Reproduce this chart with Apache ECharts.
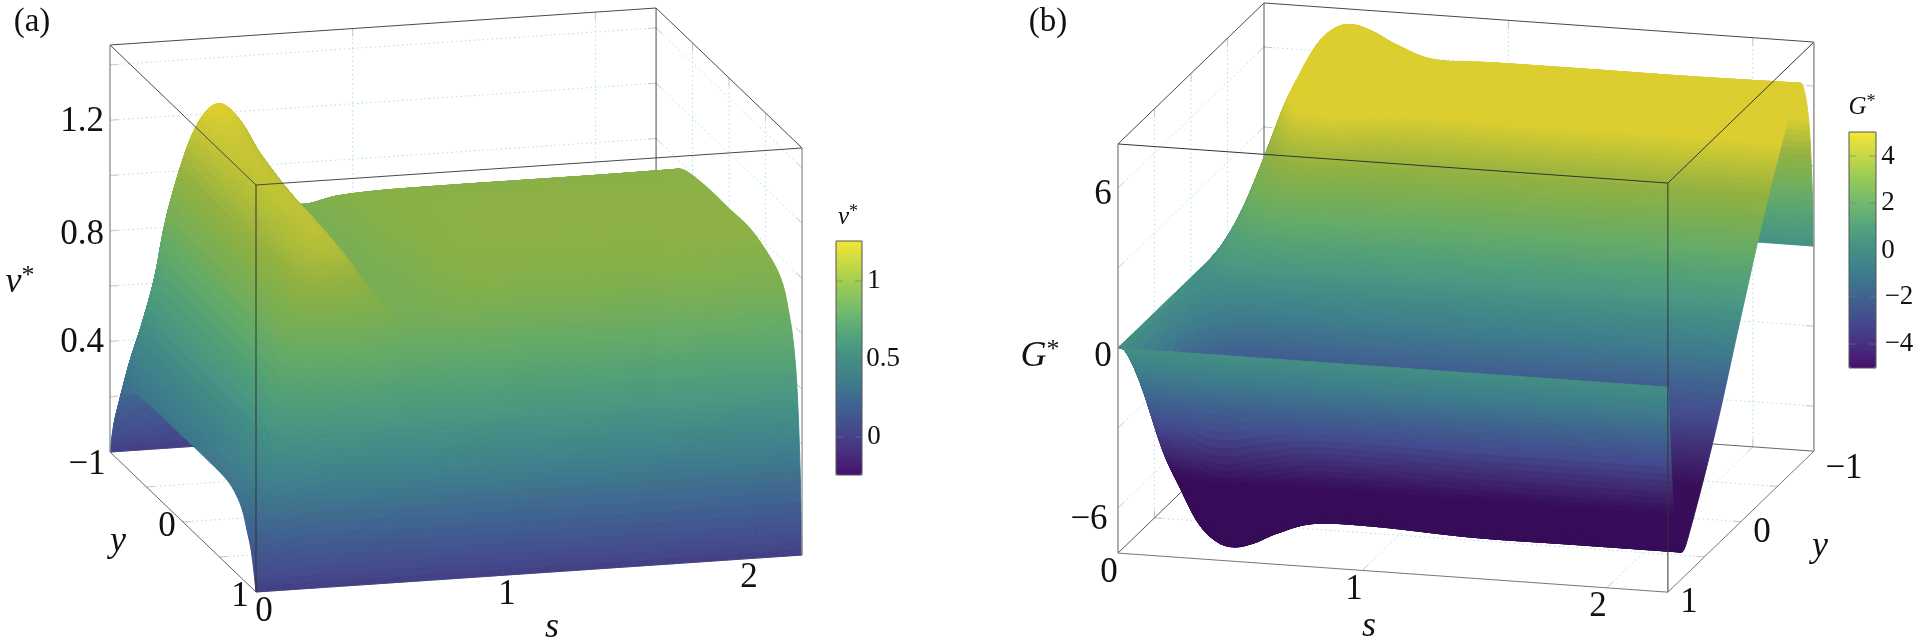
<!DOCTYPE html>
<html><head><meta charset="utf-8"><style>html,body{margin:0;padding:0;background:#fff}#c{width:1920px;height:639px}</style>
<script src="https://cdn.jsdelivr.net/npm/echarts@6/dist/echarts.min.js"></script></head>
<body><div id="c"></div><script>
// ---------- values ----------
const sA = [0,.05,.1,.15,.2,.3,.4,.5,.6,.7,.85,1,1.3,1.6,1.9,2.25];
const yA = [1,.97,.93,.88,.82,.74,.6,.3,0,-.3,-.6,-.74,-.82,-.88,-.93,-.97,-1];
const vStar = [
[0,.07,.14,.19,.245,.28,.305,.31,.31,.31,.305,.28,.25,.19,.14,.07,0],
[0,.2,.3,.36,.39,.41,.42,.42,.42,.42,.42,.41,.39,.36,.3,.15,0],
[0,.28,.42,.5,.54,.56,.57,.57,.57,.57,.57,.56,.54,.5,.42,.22,0],
[0,.31,.52,.64,.71,.73,.74,.74,.74,.74,.74,.73,.71,.66,.55,.3,0],
[0,.33,.58,.74,.85,.92,.93,.93,.93,.93,.93,.93,.92,.88,.72,.38,0],
[0,.34,.61,.78,.92,1.06,1.11,1.12,1.13,1.14,1.16,1.17,1.18,1.15,1,.5,0],
[0,.34,.61,.79,.93,1.08,1.15,1.17,1.18,1.19,1.21,1.24,1.26,1.26,1.13,.6,0],
[0,.335,.6,.77,.9,1.02,1.07,1.09,1.1,1.12,1.15,1.17,1.19,1.19,1.08,.58,0],
[0,.33,.58,.74,.84,.93,.94,.93,.93,.95,.98,1.01,1.02,1.01,.92,.48,0],
[0,.33,.57,.71,.8,.87,.89,.9,.9,.91,.92,.92,.9,.87,.77,.41,0],
[0,.33,.58,.72,.82,.9,.93,.94,.95,.96,.96,.94,.89,.83,.67,.36,0],
[0,.33,.59,.74,.84,.92,.97,.99,.99,.99,.98,.945,.9,.82,.64,.33,0],
[0,.33,.59,.74,.84,.92,.97,1,1,1,.985,.945,.9,.81,.63,.33,0],
[0,.33,.59,.74,.84,.92,.97,1,1,1,.985,.945,.9,.81,.62,.33,0],
[0,.33,.59,.74,.84,.915,.965,1,1,1,.985,.945,.9,.8,.62,.33,0],
[0,.33,.59,.74,.83,.91,.96,1,1,1,.985,.95,.9,.8,.62,.33,0]];
const sB = [0,.07,.14,.21,.28,.35,.42,.5,.6,.75,1,1.4,1.8,2.25];
const yB = [1,.98,.94,.88,.8,.66,.34,0,-.34,-.66,-.8,-.88,-.94,-.98,-1];
const gStar = [
[0,0,0,0,0,0,0,0,0,0,0,0,0,0,0],
[0,-.4,-1.25,-1.9,-2.15,-1.9,-1.05,0,1,1.85,2.1,1.9,1.45,.65,0],
[0,-.85,-2.55,-3.85,-4.35,-3.85,-2.15,0,2.1,3.75,4.3,3.9,2.95,1.3,0],
[0,-1.1,-3.35,-5.05,-5.75,-5.05,-2.85,0,2.75,5,5.7,5.15,3.85,1.7,0],
[0,-1.35,-4.05,-6.15,-6.95,-6.15,-3.45,0,3.35,6.05,6.85,6.25,4.7,2.1,0],
[0,-1.45,-4.4,-6.65,-7.55,-6.65,-3.75,0,3.6,6.55,7.45,6.8,5.1,2.25,0],
[0,-1.5,-4.5,-6.8,-7.7,-6.8,-3.8,0,3.7,6.65,7.6,6.9,5.2,2.3,0],
[0,-1.45,-4.35,-6.6,-7.5,-6.6,-3.7,0,3.6,6.5,7.4,6.7,5.05,2.25,0],
[0,-1.35,-4.1,-6.2,-7.05,-6.2,-3.45,0,3.35,6.1,6.95,6.3,4.75,2.1,0],
[0,-1.3,-3.85,-5.85,-6.6,-5.85,-3.25,0,3.15,5.75,6.5,5.95,4.45,2,0],
[0,-1.3,-3.8,-5.8,-6.55,-5.8,-3.25,0,3.15,5.7,6.55,5.9,4.4,1.95,0],
[0,-1.3,-3.9,-5.9,-6.7,-5.9,-3.3,0,3.2,5.8,6.55,6,4.5,2,0],
[0,-1.3,-3.9,-5.9,-6.7,-5.9,-3.3,0,3.2,5.8,6.55,6,4.5,2,0],
[0,-1.3,-3.9,-5.9,-6.7,-5.9,-3.3,0,3.2,5.8,6.6,6,4.5,2,0]];
const palette = ['#45106e','#48307f','#444a8e','#3f6390','#3e7d8c','#438f85','#54a47c','#71ba6e','#96ca57','#c5d845','#f5e636'];
const zTicksA = [.2,.4,.6,.8,1,1.2,1.4], zTicksB = [-6,-3,0,3,6];
const sTicks = [1,2], yTicks = [-.5,0,.5];

// ---------- view of each 3D box (screen units of the hidden axes) ----------
const viewA = {ox:256,oy:592,sx:242.7,sy:-16.44,yx:-73,yy:-70,zx:0,zy:-276.5,z0:0,z1:1.472,s1:2.25};
const viewB = {ox:1118,oy:348,sx:244.4,sy:17.37,yx:73,yy:-70.5,zx:0,zy:-26.67,z0:-7.69,z1:7.65,s1:2.25};
function proj(v,s,y,z){const d=1-y;return [v.ox+v.sx*s+v.yx*d+v.zx*z, v.oy+v.sy*s+v.yy*d+v.zy*z];}

// smooth drawing of a table between its read values, like a line's smooth option
function cr(a,b,c,d,f){return .5*(2*b+(c-a)*f+(2*a-5*b+4*c-d)*f*f+(3*b-a-3*c+d)*f*f*f);}
function at(arr,i){return arr[Math.max(0,Math.min(arr.length-1,i))];}
function steps(axis,step,minN){return axis.slice(1).map((v,i)=>Math.max(minN,Math.ceil(Math.abs(v-axis[i])/step)));}
function fine(arr,ns){const out=[];for(let i=0;i<arr.length-1;i++){const n=ns[i];for(let k=0;k<n;k++)out.push(cr(at(arr,i-1),arr[i],arr[i+1],at(arr,i+2),k/n));}out.push(arr[arr.length-1]);return out;}
function buildMesh(S,Y,T,view){const ns=steps(S,.014,3),ny=steps(Y,.014,10);
  const fs=fine(S,ns),fy=fine(Y,ny);const rows=T.map(r=>fine(r,ny));const c=[];
  for(let j=0;j<fy.length;j++)c.push(fine(rows.map(r=>r[j]),ns));
  const P=[];for(let j=0;j<fy.length;j++){P.push([]);for(let i=0;i<fs.length;i++)P[j].push(proj(view,fs[i],fy[j],c[j][i]));}
  return {fs,fy,c,P};}
const meshA=buildMesh(sA,yA,vStar,viewA), meshB=buildMesh(sB,yB,gStar,viewB);
const rangeA=[-.248,1.257], rangeB=[-5.02,5.02];
function quads(m,range,sReverse){const d=[];const nj=m.fy.length-1,ni=m.fs.length-1;
  for(let j=nj-1;j>=0;j--){for(let q=0;q<ni;q++){const i=sReverse?ni-1-q:q;
    const val=(m.c[j][i]+m.c[j][i+1]+m.c[j+1][i]+m.c[j+1][i+1])/4;
    d.push([i,j,Math.max(range[0],Math.min(range[1],val))]);}}return d;}
function shadeK(f){return f<.2?.8+f:(f<.55?1:(f<.85?1-(f-.55)*.5:.85+(f-.85)*.33));}
function shade(c,k){const a=echarts.color.parse(c);return 'rgb('+(a[0]*k|0)+','+(a[1]*k|0)+','+(a[2]*k|0)+')';}
function surface(m,range){return function(p,api){const i=api.value(0),j=api.value(1),c=api.visual('color');
  const pts=[m.P[j][i],m.P[j][i+1],m.P[j+1][i+1],m.P[j+1][i]].map(q=>api.coord(q));
  const col=shade(c,shadeK((api.value(2)-range[0])/(range[1]-range[0])));
  return {type:'polygon',shape:{points:pts},silent:true,style:{fill:col,stroke:col,lineWidth:.9}};};}

// ---------- walls ----------
const gridSeg=[];
function seg(v,a,b){gridSeg.push([...proj(v,a[0],a[1],a[2]),...proj(v,b[0],b[1],b[2])]);}
(function(){let v=viewA;
  zTicksA.forEach(z=>{seg(v,[0,-1,z],[v.s1,-1,z]);seg(v,[v.s1,-1,z],[v.s1,1,z]);});
  sTicks.forEach(s=>{seg(v,[s,-1,v.z0],[s,-1,v.z1]);seg(v,[s,-1,v.z0],[s,1,v.z0]);});
  yTicks.forEach(y=>{seg(v,[v.s1,y,v.z0],[v.s1,y,v.z1]);seg(v,[0,y,v.z0],[v.s1,y,v.z0]);});
  v=viewB;
  zTicksB.forEach(z=>{seg(v,[0,-1,z],[v.s1,-1,z]);seg(v,[0,-1,z],[0,1,z]);});
  sTicks.forEach(s=>{seg(v,[s,-1,v.z0],[s,-1,v.z1]);seg(v,[s,-1,v.z0],[s,1,v.z0]);});
  yTicks.forEach(y=>{seg(v,[0,y,v.z0],[0,y,v.z1]);seg(v,[0,y,v.z0],[v.s1,y,v.z0]);});
})();
function edge(list,v,a,b,col,w){list.push([...proj(v,a[0],a[1],a[2]),...proj(v,b[0],b[1],b[2]),col,w]);}
const backEdges=[],frontEdges=[];
(function(){const D='#4a4a4a',G='#9a9a9a';
  let v=viewA,s=v.s1,a=v.z0,b=v.z1;
  edge(backEdges,v,[s,-1,a],[s,-1,b],D,1);edge(backEdges,v,[0,-1,a],[s,-1,a],G,1);edge(backEdges,v,[s,-1,a],[s,1,a],G,1);
  edge(frontEdges,v,[0,-1,b],[s,-1,b],D,1);edge(frontEdges,v,[s,-1,b],[s,1,b],D,1);edge(frontEdges,v,[0,-1,b],[0,1,b],D,1);edge(frontEdges,v,[0,1,b],[s,1,b],D,1);
  edge(frontEdges,v,[0,1,a],[0,1,b],'#333',1);edge(frontEdges,v,[0,-1,a],[0,-1,b],'#8a979c',1.4);edge(frontEdges,v,[s,1,a],[s,1,b],'#9a9a9a',1.4);
  edge(backEdges,v,[0,-1,a],[0,1,a],'#666',1);edge(backEdges,v,[0,1,a],[s,1,a],G,1);
  v=viewB;s=v.s1;a=v.z0;b=v.z1;
  edge(backEdges,v,[0,-1,a],[0,-1,b],'#4a5a60',1);edge(backEdges,v,[0,-1,a],[s,-1,a],'#666',1);edge(backEdges,v,[0,-1,a],[0,1,a],'#555',1);
  edge(frontEdges,v,[0,-1,b],[s,-1,b],D,1);edge(frontEdges,v,[0,-1,b],[0,1,b],D,1);edge(frontEdges,v,[0,1,b],[s,1,b],'#333',1);edge(frontEdges,v,[s,-1,b],[s,1,b],'#333',1);
  edge(frontEdges,v,[s,1,a],[s,1,b],'#333',1);edge(frontEdges,v,[0,1,a],[0,1,b],G,1.6);edge(frontEdges,v,[s,-1,a],[s,-1,b],G,1.6);
  edge(frontEdges,v,[0,1,a],[s,1,a],'#777',1);edge(frontEdges,v,[s,1,a],[s,-1,a],'#777',1);
})();
function lines(dash){return function(p,api){const d=[api.value(0),api.value(1),api.value(2),api.value(3)];
  const A=api.coord([d[0],d[1]]),B=api.coord([d[2],d[3]]);
  if(dash){const L=Math.hypot(B[0]-A[0],B[1]-A[1]),ux=(B[0]-A[0])/L*8,uy=(B[1]-A[1])/L*8;
    return {type:'group',children:[
      {type:'line',shape:{x1:A[0],y1:A[1],x2:B[0],y2:B[1]},silent:true,style:{stroke:'#aee0ec',lineWidth:1,lineDash:[1.5,3]}},
      {type:'line',shape:{x1:A[0],y1:A[1],x2:A[0]+ux,y2:A[1]+uy},silent:true,style:{stroke:'#c8c8c8',lineWidth:1}},
      {type:'line',shape:{x1:B[0],y1:B[1],x2:B[0]-ux,y2:B[1]-uy},silent:true,style:{stroke:'#c8c8c8',lineWidth:1}}]};}
  return {type:'line',shape:{x1:A[0],y1:A[1],x2:B[0],y2:B[1]},silent:true,style:{stroke:api.value(4),lineWidth:api.value(5)}};};}

// ---------- text ----------
const F='"Liberation Serif",serif';
const tickLabels=[
['(a)',32,22,33],['1.2',82,122,35],['0.8',82,235,35],['0.4',82,343,35],['−1',87,465,35],['0',167,527,35],['1',240,597,35],
['0',264,612,35],['1',507,595,35],['2',749,578,35],['1',874,281,27],['0.5',883,359,27],['0',874,437,27],
['(b)',1048,22,33],['6',1103,195,35],['0',1103,357,35],['−6',1089,520,35],['0',1109,573,35],['1',1354,590,35],['2',1598,607,35],
['1',1689,603,35],['0',1762,533,35],['−1',1844,469,35],['4',1888,157,27],['2',1888,203,27],['0',1888,251,27],['−2',1899,297,27],['−4',1899,344,27]];
const axisNames=[['y',118,542,36],['s',552,628,36],['s',1369,627,36],['y',1820,547,36]];
const starNames=[['v',20,283,36],['v',848,217,25],['G',1040,357,36],['G',1862,107,25]];
function textItem(t,x,y,size,extra){return Object.assign({type:'text',x,y,silent:true,style:{text:t,fontFamily:F,fontSize:size,fill:'#111',align:'center',verticalAlign:'middle'}},extra||{});}
const allText=[...tickLabels.map(a=>[0,...a]),...axisNames.map(a=>[1,...a]),...starNames.map(a=>[2,...a])];
function renderText(p,api){const a=allText[p.dataIndex],C=api.coord([a[2],a[3]]),size=a[4];
  if(a[0]===0)return textItem(a[1],C[0],C[1],size);
  if(a[0]===1)return {type:'text',x:C[0],y:C[1],silent:true,style:{text:a[1],fontFamily:F,fontStyle:'italic',fontSize:size,fill:'#111',align:'center',verticalAlign:'middle'}};
  return {type:'text',x:C[0],y:C[1],silent:true,style:{text:'{i|'+a[1]+'}{u|*}',fontFamily:F,fill:'#111',align:'center',verticalAlign:'middle',
    rich:{i:{fontFamily:F,fontStyle:'italic',fontSize:size,fill:'#111',lineHeight:size*1.1},u:{fontFamily:F,fontSize:size*.72,fill:'#111',verticalAlign:'top',lineHeight:size*1.1}}}};}
// colour-bar frames and ticks
const barRects=[[836,241,26,234],[1849,132,27,236]];
const barTicks=[[281,836,862],[359,836,862],[437,836,862],[156,1849,1876],[203,1849,1876],[250,1849,1876],[297,1849,1876],[344,1849,1876]];
function renderBar(p,api){const r=barRects[p.dataIndex],A=api.coord([r[0],r[1]]);return {type:'rect',shape:{x:A[0],y:A[1],width:r[2],height:r[3]},silent:true,style:{fill:'none',stroke:'#555',lineWidth:1}};}
function renderBarTick(p,api){const t=barTicks[p.dataIndex],A=api.coord([t[1],t[0]]),B=api.coord([t[2],t[0]]);
  return {type:'group',children:[{type:'line',silent:true,shape:{x1:A[0],y1:A[1],x2:A[0]+7,y2:A[1]},style:{stroke:'rgba(120,120,120,.6)',lineWidth:1}},{type:'line',silent:true,shape:{x1:B[0]-7,y1:B[1],x2:B[0],y2:B[1]},style:{stroke:'rgba(120,120,120,.6)',lineWidth:1}}]};}

const chart=echarts.init(document.getElementById('c'),null,{renderer:'canvas'});
const base={type:'custom',coordinateSystem:'cartesian2d',clip:false,animation:false,silent:true,progressive:0,tooltip:{show:false}};
chart.setOption({animation:false,backgroundColor:'#fff',
  grid:{left:0,right:0,top:0,bottom:0},
  xAxis:{type:'value',min:0,max:1920,show:false},yAxis:{type:'value',min:0,max:639,inverse:true,show:false},
  visualMap:[
   {type:'continuous',seriesIndex:2,dimension:2,min:rangeA[0],max:rangeA[1],left:836,top:241,itemWidth:26,itemHeight:234,padding:0,inRange:{color:palette},calculable:false,hoverLink:false,text:null,showLabel:false,realtime:false},
   {type:'continuous',seriesIndex:3,dimension:2,min:rangeB[0],max:rangeB[1],left:1849,top:132,itemWidth:27,itemHeight:236,padding:0,inRange:{color:palette},calculable:false,hoverLink:false,text:null,showLabel:false,realtime:false}],
  series:[
   Object.assign({},base,{z:1,data:gridSeg,renderItem:lines(true)}),
   Object.assign({},base,{z:1,data:backEdges.map(e=>e),dimensions:['a','b','c','d',{name:'col',type:'ordinal'},'w'],renderItem:lines(false)}),
   Object.assign({},base,{z:2,data:quads(meshA,rangeA,true),renderItem:surface(meshA,rangeA)}),
   Object.assign({},base,{z:2,data:quads(meshB,rangeB,false),renderItem:surface(meshB,rangeB)}),
   Object.assign({},base,{z:3,data:frontEdges.map(e=>e),dimensions:['a','b','c','d',{name:'col',type:'ordinal'},'w'],renderItem:lines(false)}),
   Object.assign({},base,{z:4,data:allText.map((a,i)=>[a[2],a[3]]),renderItem:renderText}),
   Object.assign({},base,{z:12,data:barRects.map(r=>[r[0],r[1]]),renderItem:renderBar}),
   Object.assign({},base,{z:12,data:barTicks.map(t=>[t[1],t[0]]),renderItem:renderBarTick})
  ]});
</script></body></html>
